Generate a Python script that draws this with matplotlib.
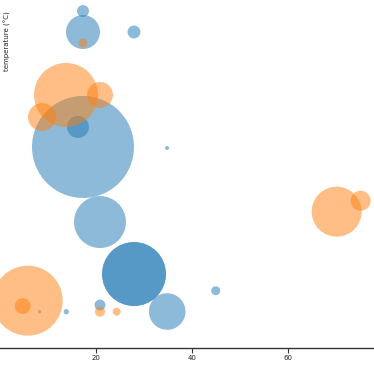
import matplotlib
matplotlib.use("Agg")
import matplotlib.pyplot as plt
import numpy as np

# Blue series (x, temperature, size value)
blue_x = [17.4, 17.4, 28.0, 16.36, 17.4, 34.86, 20.93, 28.0, 28.0, 34.9, 44.98, 20.93, 13.93, 8.4]
blue_y = [33.89, 31.78, 31.78, 22.23, 20.22, 20.11, 12.67, 7.44, 7.44, 3.67, 5.76, 4.32, 3.65, 3.65]
blue_v = [36, 289, 42, 121, 2601, 4, 676, 1024, 1024, 335, 20, 30, 7, 2.3]

# Orange series
orange_x = [17.4, 13.87, 20.93, 8.88, 70.11, 75.1, 5.91, 4.87, 20.93, 24.4]
orange_y = [30.67, 25.45, 25.45, 23.23, 13.71, 14.81, 4.76, 4.22, 3.65, 3.65]
orange_v = [20, 1024, 169, 196, 625, 100, 1225, 64, 25, 16]

xticks = [20, 40, 60]
ylabel = "temperature (°C)"

W = H = 374
fig = plt.figure(figsize=(W / 100, H / 100), dpi=100)
ax = fig.add_axes([0, (H - 348) / H, 1, 348 / H])

k = (2 * 0.72) ** 2  # radius^2 (px) -> points^2
ax.scatter(blue_x, blue_y, s=np.array(blue_v) * k, color="#1f77b4", alpha=0.5,
           linewidths=0, clip_on=False, zorder=2)
ax.scatter(orange_x, orange_y, s=np.array(orange_v) * k, color="#ff7f0e", alpha=0.5,
           linewidths=0, clip_on=False, zorder=2)

ax.set_xlim(-0.75 / 4.8125 * -1 + 0.0, 374.75 / 4.8125)
ax.set_ylim(0, 35)
ax.set_xticks(xticks)
ax.set_xticklabels([str(t) for t in xticks])
ax.set_yticks([])
for s in ["top", "right", "left"]:
    ax.spines[s].set_visible(False)
ax.spines["bottom"].set_color("#333333")
ax.spines["bottom"].set_linewidth(1.0)
ax.tick_params(axis="x", direction="out", length=3.6, width=0.8, color="#333333",
               labelsize=5, labelcolor="#222222", pad=1.5)
ax.patch.set_alpha(0)

fig.text(7 / W, 1 - 11 / H, ylabel, rotation=90, ha="center", va="top",
         fontsize=5, color="#222222")

fig.savefig("out.png", dpi=100)
